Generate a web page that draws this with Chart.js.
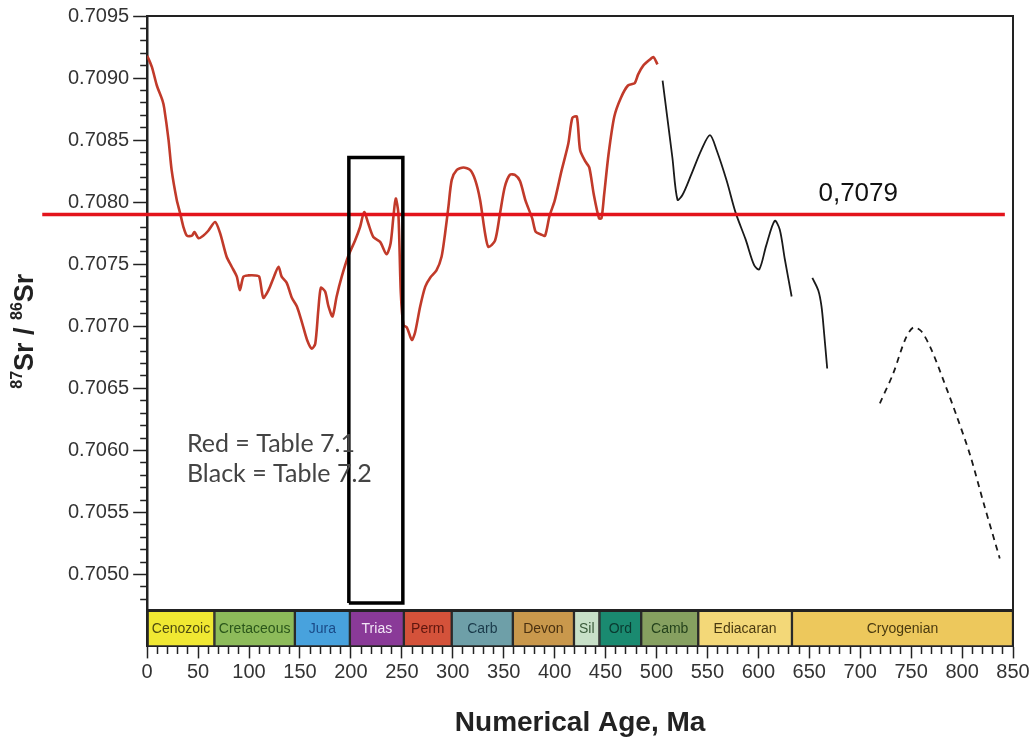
<!DOCTYPE html>
<html>
<head>
<meta charset="utf-8">
<script src="https://cdn.jsdelivr.net/npm/chart.js@4.4.1/dist/chart.umd.min.js"></script>
<style>
  html, body { margin: 0; padding: 0; background: #fff; }
</style>
</head>
<body>
<canvas id="Chart" width="1035" height="742"></canvas>
<script>
// Red curve = Table 7.1 (age in Ma, 87Sr/86Sr)
var redAge = [0, 4.6, 9.5, 15, 16.7, 21, 24, 29, 32.4, 35.6, 39, 44, 46.4, 50.4, 55, 60, 66.7, 71.6, 78, 83,
  88, 91, 94.5, 99.4, 106, 110, 114, 119, 124, 129, 132, 137, 142, 147, 152, 157, 161.6, 165, 168, 170.5,
  174.7, 178, 182, 186, 191, 197.6, 204, 209, 213, 217, 222, 228.7, 235, 239, 241.7, 244, 246.6, 249, 251.6, 255,
  259.8, 263, 268, 273, 277.7, 284, 289, 292.5, 295.7, 299, 304, 310.5, 317, 322, 326.8, 331.7, 335, 341.5, 346.4, 351,
  356, 361, 366, 371.5, 378, 381.5, 386.6, 390.6, 395, 400, 406.7, 413.4, 417.4, 421.8, 425, 430, 434, 438.5, 443.6, 446,
  448.6, 453, 458.6, 465, 472, 478.7, 482, 487, 493.7, 497, 501];
var redSr = [0.70918, 0.70909, 0.70894, 0.70882, 0.70876, 0.70850, 0.70826, 0.70802, 0.70791, 0.70780, 0.70773, 0.70773, 0.70776, 0.70771, 0.70773, 0.70777, 0.70784, 0.70775, 0.70756, 0.70748,
  0.70740, 0.70729, 0.70740, 0.70741, 0.70741, 0.70740, 0.70723, 0.70729, 0.70739, 0.70748, 0.70740, 0.70735, 0.70723, 0.70716, 0.70703, 0.70689, 0.70682, 0.70686, 0.70713, 0.70731,
  0.70728, 0.70716, 0.70708, 0.70724, 0.70740, 0.70757, 0.70769, 0.70780, 0.70792, 0.70783, 0.70772, 0.70768, 0.70758, 0.70767, 0.70788, 0.70803, 0.70791, 0.70727, 0.70701, 0.70699,
  0.70689, 0.70695, 0.70716, 0.70732, 0.70739, 0.70745, 0.70756, 0.70775, 0.70796, 0.70818, 0.70826, 0.70828, 0.70826, 0.70818, 0.70802, 0.70775, 0.70764, 0.70769, 0.70791, 0.70812,
  0.70822, 0.70822, 0.70817, 0.70801, 0.70787, 0.70776, 0.70774, 0.70773, 0.70789, 0.70801, 0.70825, 0.70847, 0.70868, 0.70869, 0.70842, 0.70833, 0.70828, 0.70806, 0.70787, 0.70787,
  0.70806, 0.70839, 0.70869, 0.70884, 0.70894, 0.70896, 0.70903, 0.70910, 0.70915, 0.70917, 0.70911];

// Black curves = Table 7.2
var blackAgeA = [506, 510.5, 515.6, 520.6, 525.6, 534, 544, 552.5, 559, 569, 577.5, 587.5, 596, 601, 607.7, 616, 621, 626, 632.7];
var blackSrA = [0.70898, 0.70869, 0.70836, 0.70802, 0.70806, 0.70822, 0.70842, 0.70854, 0.70842, 0.70817, 0.70792, 0.70770, 0.70749, 0.70746, 0.70765, 0.70785, 0.70778, 0.70754, 0.70724];
var blackAgeB = [653, 658.8, 662, 664.5, 667.6];
var blackSrB = [0.70739, 0.70729, 0.70716, 0.70695, 0.70666];
var dashAge = [719.3, 732.4, 744, 752, 760, 770, 781.5, 794.6, 808, 821, 837];
var dashSr = [0.70638, 0.70662, 0.70689, 0.70699, 0.70696, 0.70681, 0.70657, 0.70628, 0.70596, 0.70558, 0.70513];

// Reference level and the highlighted Triassic box
var threshold = 0.7079;
var boxAge = [198, 251];
var boxSr = [0.70477, 0.70836];

// Geologic time scale band
var eraNames = ['Cenozoic', 'Cretaceous', 'Jura', 'Trias', 'Perm', 'Carb', 'Devon', 'Sil', 'Ord', 'Camb', 'Ediacaran', 'Cryogenian'];
var eraStart = [0, 66, 145, 199, 252, 299, 359, 419, 444, 485, 541, 633];
var eraEnd = [66, 145, 199, 252, 299, 359, 419, 444, 485, 541, 633, 850];

// Axis range and ticks
var ageMin = 0, ageMax = 850, ageStep = 10, ageLabelStep = 50;
var srMin = 0.70471, srMax = 0.7095, srStep = 0.0001;

// styles
var eraFill = ['#f0e832', '#8dbb5a', '#48a2dd', '#8a3a98', '#d4523a', '#6e9fa8', '#c9984c', '#c8e0c8', '#1a8a70', '#86a060', '#f3d878', '#edc85c'];
var eraText = ['#4e4c10', '#2a561a', '#1a4a88', '#f2e6f6', '#5e160e', '#1a3a4a', '#4a3010', '#3a5a3a', '#0a3a30', '#24421c', '#4a3a10', '#4a3a10'];
var SANS = '"Liberation Sans", Arial, sans-serif';

function pts(xs, ys) {
  return xs.map(function (x, i) { return { x: x, y: ys[i] }; });
}

var notes = {
  id: 'notes',
  afterDatasetsDraw: function (chart) {
    var ctx = chart.ctx, area = chart.chartArea, sx = chart.scales.x, sy = chart.scales.y;
    ctx.save();
    // frame
    ctx.strokeStyle = '#222';
    ctx.lineWidth = 2;
    ctx.beginPath();
    ctx.moveTo(area.left, area.top);
    ctx.lineTo(area.right, area.top);
    ctx.lineTo(area.right, area.bottom);
    ctx.stroke();
    ctx.lineWidth = 3;
    ctx.beginPath();
    ctx.moveTo(area.left, chart.scales.yBand.top);
    ctx.lineTo(area.right, chart.scales.yBand.top);
    ctx.stroke();

    // era names
    var meta = chart.getDatasetMeta(chart.data.datasets.length - 1);
    ctx.font = '14px "Liberation Sans Narrow", ' + SANS;
    ctx.textAlign = 'center';
    ctx.textBaseline = 'middle';
    meta.data.forEach(function (bar, i) {
      var c = bar.getCenterPoint();
      ctx.fillStyle = eraText[i];
      ctx.fillText(eraNames[i], c.x, c.y + 1);
    });

    // annotations
    ctx.textAlign = 'left';
    ctx.textBaseline = 'alphabetic';
    ctx.fillStyle = '#111';
    ctx.font = '26px ' + SANS;
    ctx.fillText('0,7079', sx.getPixelForValue(659), sy.getPixelForValue(0.70801));
    ctx.fillStyle = '#444';
    ctx.font = '25px Lato, "Open Sans", sans-serif';
    ctx.fillText('Red = Table 7.1', sx.getPixelForValue(39), sy.getPixelForValue(0.705985));
    ctx.fillText('Black = Table 7.2', sx.getPixelForValue(39), sy.getPixelForValue(0.705744));
    ctx.restore();
  },
  afterDraw: function (chart) {
    // y axis title with superscripts
    var ctx = chart.ctx, area = chart.chartArea;
    var parts = [['87', true], ['Sr / ', false], ['86', true], ['Sr', false]];
    var big = 'bold 27px ' + SANS, small = 'bold 16px ' + SANS;
    ctx.save();
    var total = 0;
    parts.forEach(function (p) { ctx.font = p[1] ? small : big; total += ctx.measureText(p[0]).width; });
    ctx.translate(23, (area.top + area.bottom) / 2);
    ctx.rotate(-Math.PI / 2);
    ctx.fillStyle = '#222';
    ctx.textBaseline = 'alphabetic';
    var x = -total / 2;
    parts.forEach(function (p) {
      ctx.font = p[1] ? small : big;
      ctx.fillText(p[0], x, p[1] ? -1 : 10);
      x += ctx.measureText(p[0]).width;
    });
    ctx.restore();
  }
};

var config = {
  type: 'line',
  data: {
    datasets: [
      {
        label: 'box', data: pts([boxAge[0], boxAge[0], boxAge[1], boxAge[1], boxAge[0]], [boxSr[0], boxSr[1], boxSr[1], boxSr[0], boxSr[0]]),
        borderColor: '#000', borderWidth: 3.5, borderJoinStyle: 'miter', pointRadius: 0, tension: 0, order: -1,
        xAxisID: 'x', yAxisID: 'y'
      },
      {
        label: '0,7079', data: pts([-103, 842], [threshold, threshold]),
        borderColor: '#e3141c', borderWidth: 3.5, pointRadius: 0, clip: false, order: 0,
        xAxisID: 'x', yAxisID: 'y'
      },
      {
        label: 'Table 7.1', data: pts(redAge, redSr),
        borderColor: '#c13a2a', borderWidth: 2.6, pointRadius: 0, tension: 0.25, order: 1,
        xAxisID: 'x', yAxisID: 'y'
      },
      {
        label: 'Table 7.2 a', data: pts(blackAgeA, blackSrA),
        borderColor: '#1a1a1a', borderWidth: 1.8, pointRadius: 0, tension: 0.3, order: 2,
        xAxisID: 'x', yAxisID: 'y'
      },
      {
        label: 'Table 7.2 b', data: pts(blackAgeB, blackSrB),
        borderColor: '#1a1a1a', borderWidth: 1.8, pointRadius: 0, tension: 0.3, order: 2,
        xAxisID: 'x', yAxisID: 'y'
      },
      {
        label: 'Table 7.2 c', data: pts(dashAge, dashSr),
        borderColor: '#1a1a1a', borderWidth: 1.8, borderDash: [6, 5], pointRadius: 0, tension: 0.3, order: 2,
        xAxisID: 'x', yAxisID: 'y'
      },
      {
        type: 'bar', label: 'eras', indexAxis: 'y',
        data: eraStart.map(function (s, i) { return { x: [s, eraEnd[i]], y: 'era' }; }),
        backgroundColor: eraFill, borderColor: '#2a2a2a', borderWidth: 1.5, borderSkipped: false,
        barPercentage: 1, categoryPercentage: 1, order: 5,
        xAxisID: 'x', yAxisID: 'yBand'
      }
    ]
  },
  options: {
    responsive: false,
    animation: false,
    layout: { padding: { left: 64, right: 22, top: 15, bottom: 2 } },
    plugins: { legend: { display: false }, tooltip: { enabled: false } },
    scales: {
      x: {
        type: 'linear', position: 'bottom', min: ageMin, max: ageMax,
        ticks: {
          stepSize: ageStep, autoSkip: false, maxRotation: 0, maxTicksLimit: 200, includeBounds: false,
          padding: 2, color: '#333', font: { family: SANS, size: 20 },
          callback: function (v) { return v % ageLabelStep === 0 ? String(v) : ''; }
        },
        grid: {
          drawOnChartArea: false, tickLength: 12, tickWidth: 1.5, tickColor: '#222',
          tickBorderDash: function (c) { return c.tick && c.tick.value % ageLabelStep === 0 ? [] : [7, 50]; }
        },
        border: { display: true, color: '#222', width: 2 },
        title: {
          display: true, text: 'Numerical Age, Ma', color: '#222',
          font: { family: SANS, size: 28, weight: 'bold' }, padding: { top: 20, bottom: 0 }
        }
      },
      yBand: {
        type: 'category', axis: 'y', labels: ['era'], position: 'left', stack: 'left', stackWeight: 36, offset: true,
        ticks: { display: false },
        grid: { display: false, drawTicks: false },
        border: { display: true, color: '#222', width: 2.5 }
      },
      y: {
        type: 'linear', position: 'left', stack: 'left', stackWeight: 597, min: srMin, max: srMax,
        ticks: {
          stepSize: srStep, autoSkip: false, maxTicksLimit: 200, includeBounds: false,
          padding: 4, color: '#333', font: { family: SANS, size: 20 },
          callback: function (v) { var k = Math.round(v * 10000); return k % 5 === 0 ? (k / 10000).toFixed(4) : ''; }
        },
        grid: {
          drawOnChartArea: false, tickLength: 14, tickWidth: 1.5, tickColor: '#222',
          tickBorderDash: function (c) { return c.tick && Math.round(c.tick.value * 10000) % 5 === 0 ? [] : [0, 7, 50, 0]; }
        },
        border: { display: true, color: '#222', width: 2.5 }
      }
    }
  },
  plugins: [notes]
};

var ctx = document.getElementById('Chart').getContext('2d');
var myChart = new Chart(ctx, config);
</script>
</body>
</html>
